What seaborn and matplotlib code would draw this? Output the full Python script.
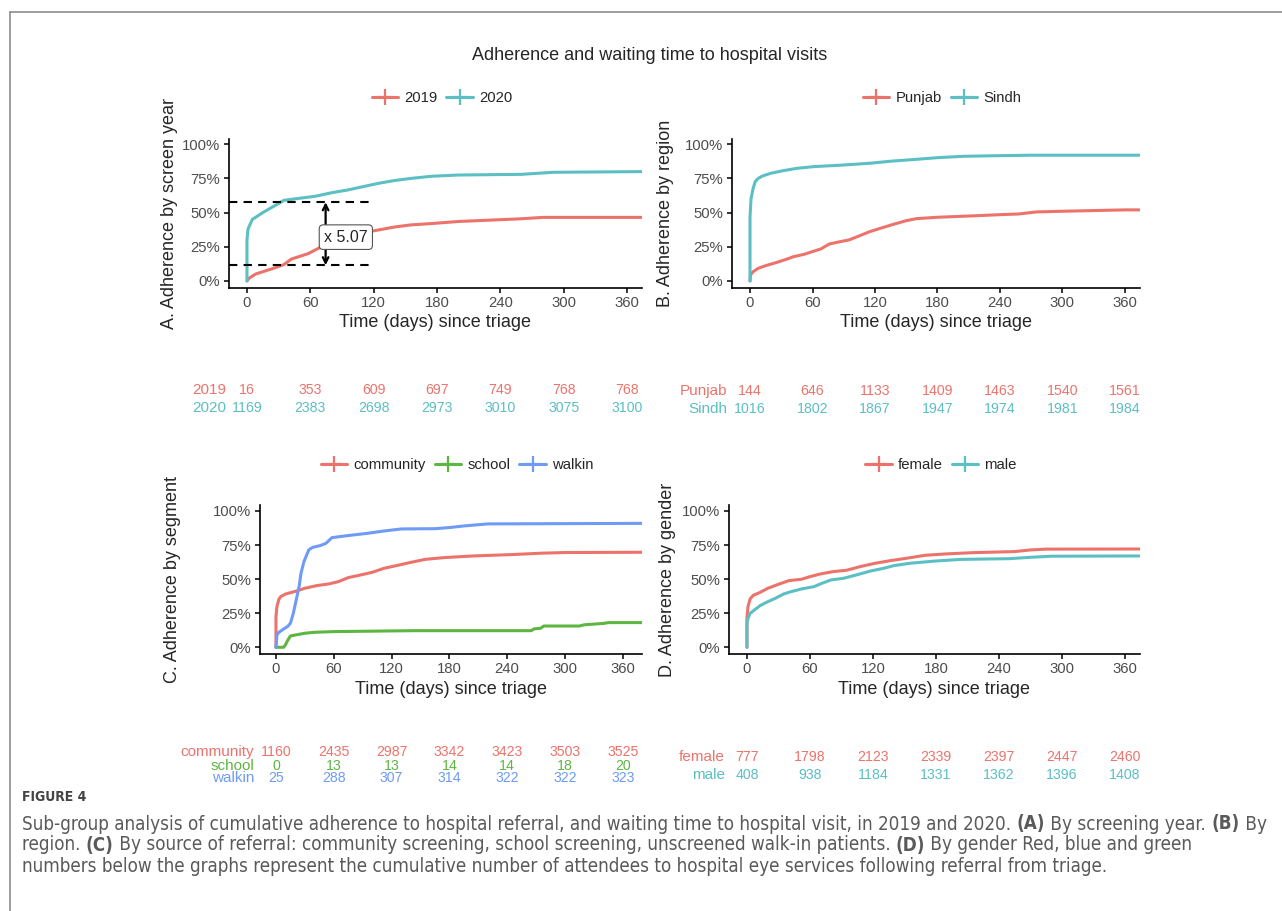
import pandas as pd
import seaborn as sns
import matplotlib.pyplot as plt
from matplotlib import font_manager
from matplotlib.lines import Line2D
from matplotlib.ticker import PercentFormatter
from matplotlib.transforms import blended_transform_factory

# Curvas (tempo em dias, adesão acumulada)
t_2019 = [0, 2, 8, 20, 28, 35, 42, 50, 58, 68, 75, 85, 100, 115, 126, 140, 155, 175, 200, 230, 260, 280, 374]
v_2019 = [0, 0.02, 0.05, 0.08, 0.10, 0.12, 0.16, 0.18, 0.20, 0.24, 0.27, 0.31, 0.34, 0.36, 0.375, 0.395,
          0.41, 0.42, 0.435, 0.445, 0.455, 0.465, 0.465]
t_2020 = [0, 0, 1, 5, 15, 25, 35, 50, 65, 80, 95, 110, 125, 140, 155, 175, 200, 260, 290, 374]
v_2020 = [0, 0.30, 0.38, 0.45, 0.50, 0.545, 0.59, 0.605, 0.62, 0.645, 0.665, 0.69, 0.715, 0.735, 0.75,
          0.766, 0.775, 0.78, 0.795, 0.80]

t_punjab = [0, 0.5, 3, 8, 15, 25, 35, 42, 52, 60, 68, 76, 85, 95, 105, 115, 125, 138, 150, 160, 180, 210,
            240, 258, 275, 300, 360, 374]
v_punjab = [0, 0.045, 0.068, 0.093, 0.112, 0.134, 0.159, 0.178, 0.195, 0.215, 0.234, 0.27, 0.285, 0.30,
            0.33, 0.361, 0.385, 0.415, 0.441, 0.456, 0.466, 0.475, 0.485, 0.49, 0.505, 0.51, 0.52, 0.52]
t_sindh = [0, 0, 1, 3, 5, 8, 12, 20, 32, 45, 62, 85, 115, 135, 160, 180, 205, 235, 270, 374]
v_sindh = [0, 0.47, 0.605, 0.678, 0.727, 0.751, 0.768, 0.788, 0.807, 0.824, 0.837, 0.846, 0.861, 0.876,
           0.89, 0.902, 0.912, 0.916, 0.92, 0.92]

t_community = [0, 0, 1, 3, 5, 10, 20, 30, 42, 55, 65, 75, 85, 100, 112, 125, 140, 155, 175, 205, 245, 275,
               300, 380]
v_community = [0, 0.225, 0.298, 0.352, 0.372, 0.391, 0.41, 0.433, 0.452, 0.465, 0.482, 0.511, 0.526, 0.55,
               0.579, 0.599, 0.623, 0.645, 0.658, 0.67, 0.68, 0.69, 0.695, 0.697]
t_school = [0, 8, 10, 12, 15, 20, 30, 40, 60, 145, 265, 268, 275, 278, 315, 320, 340, 345, 380]
v_school = [0, 0, 0.02, 0.049, 0.083, 0.09, 0.103, 0.11, 0.115, 0.122, 0.122, 0.135, 0.14, 0.156, 0.156,
            0.165, 0.175, 0.181, 0.181]
t_walkin = [0, 1, 3, 8, 12, 15, 18, 21, 24, 26, 29, 34, 38, 46, 52, 58, 72, 95, 110, 130, 165, 180, 195,
            220, 380]
v_walkin = [0, 0.09, 0.11, 0.134, 0.152, 0.176, 0.249, 0.347, 0.445, 0.543, 0.628, 0.714, 0.733, 0.746,
            0.763, 0.804, 0.817, 0.836, 0.851, 0.868, 0.87, 0.878, 0.89, 0.905, 0.909]

t_female = [0, 0, 1, 3, 6, 12, 20, 30, 40, 52, 60, 70, 82, 95, 108, 122, 137, 152, 170, 190, 215, 255,
            270, 285, 374]
v_female = [0, 0.22, 0.298, 0.355, 0.381, 0.401, 0.433, 0.462, 0.489, 0.499, 0.518, 0.538, 0.555, 0.565,
            0.592, 0.616, 0.636, 0.653, 0.675, 0.685, 0.694, 0.702, 0.714, 0.72, 0.721]
t_male = [0, 0, 0.5, 3, 8, 13, 20, 27, 35, 42, 52, 64, 70, 80, 92, 102, 118, 130, 140, 155, 180, 205, 250,
          270, 290, 374]
v_male = [0, 0.18, 0.2, 0.249, 0.279, 0.308, 0.335, 0.359, 0.391, 0.408, 0.428, 0.445, 0.465, 0.494,
          0.506, 0.526, 0.56, 0.579, 0.599, 0.616, 0.633, 0.645, 0.65, 0.66, 0.668, 0.67]

# Tabelas de números acumulados
risk_times = [0, 60, 120, 180, 240, 300, 360]
n_2019 = [16, 353, 609, 697, 749, 768, 768]
n_2020 = [1169, 2383, 2698, 2973, 3010, 3075, 3100]
n_punjab = [144, 646, 1133, 1409, 1463, 1540, 1561]
n_sindh = [1016, 1802, 1867, 1947, 1974, 1981, 1984]
n_community = [1160, 2435, 2987, 3342, 3423, 3503, 3525]
n_school = [0, 13, 13, 14, 14, 18, 20]
n_walkin = [25, 288, 307, 314, 322, 322, 323]
n_female = [777, 1798, 2123, 2339, 2397, 2447, 2460]
n_male = [408, 938, 1184, 1331, 1362, 1396, 1408]

# Anotação do painel A
ratio_low, ratio_high = 0.115, 0.576
ratio_day, ratio_end = 74.5, 120
ratio_label = "x 5.07"

# Texto da legenda da figura (partes em negrito marcadas com True)
caption_lines = [
    [("Sub-group analysis of cumulative adherence to hospital referral, and waiting time to hospital visit, "
      "in 2019 and 2020. ", False), ("(A)", True), (" By screening year. ", False), ("(B)", True),
     (" By", False)],
    [("region. ", False), ("(C)", True), (" By source of referral: community screening, school screening, "
                                          "unscreened walk-in patients. ", False), ("(D)", True),
     (" By gender Red, blue and green", False)],
    [("numbers below the graphs represent the cumulative number of attendees to hospital eye services "
      "following referral from triage.", False)],
]

RED, TEAL, GREEN, BLUE = "#EC736B", "#5BBFC3", "#5DB642", "#6D9BF5"

W, H = 1282, 911
sns.set_style("ticks")
plt.rcParams["font.family"] = ["Liberation Sans", "DejaVu Sans"]

fig = plt.figure(figsize=(W / 100, H / 100), dpi=100)


def px_axes(left, right, top, bottom):
    return fig.add_axes([left / W, 1 - bottom / H, (right - left) / W, (bottom - top) / H])


def make_df(curves):
    rows = []
    for name, tt, vv in curves:
        for t, v in zip(tt, vv):
            rows.append((name, t, v))
    return pd.DataFrame(rows, columns=["grupo", "tempo", "adesao"])


panels = [
    dict(pos=(228.5, 642.3, 138.8, 287.8), xlim=(-17.5, 374.5), ylab="A. Adherence by screen year", labx=-0.122,
         curves=[("2019", t_2019, v_2019), ("2020", t_2020, v_2020)], colors=[RED, TEAL],
         legend=(442, 98), risk=[("2019", n_2019), ("2020", n_2020)], risk_y=[390, 408], lab_x=226),
    dict(pos=(731.8, 1140, 138.8, 287.8), xlim=(-17.5, 374.5), ylab="B. Adherence by region", labx=-0.142,
         curves=[("Punjab", t_punjab, v_punjab), ("Sindh", t_sindh, v_sindh)], colors=[RED, TEAL],
         legend=(942, 98), risk=[("Punjab", n_punjab), ("Sindh", n_sindh)], risk_y=[391, 409], lab_x=727),
    dict(pos=(259.6, 642, 505.5, 654.1), xlim=(-17, 380), ylab="C. Adherence by segment", labx=-0.206,
         curves=[("community", t_community, v_community), ("school", t_school, v_school),
                 ("walkin", t_walkin, v_walkin)], colors=[RED, GREEN, BLUE],
         legend=(457, 465), risk=[("community", n_community), ("school", n_school), ("walkin", n_walkin)],
         risk_y=[752, 765.5, 778.5], lab_x=254),
    dict(pos=(728.6, 1140, 505.5, 654.1), xlim=(-17.5, 374.5), ylab="D. Adherence by gender", labx=-0.128,
         curves=[("female", t_female, v_female), ("male", t_male, v_male)], colors=[RED, TEAL],
         legend=(941, 465), risk=[("female", n_female), ("male", n_male)], risk_y=[757, 775], lab_x=725),
]

axes = []
for p in panels:
    ax = px_axes(*p["pos"])
    axes.append(ax)
    df = make_df(p["curves"])
    names = [c[0] for c in p["curves"]]
    sns.lineplot(data=df, x="tempo", y="adesao", hue="grupo", hue_order=names,
                 palette=dict(zip(names, p["colors"])), estimator=None, sort=False,
                 lw=2.2, legend=False, ax=ax)
    ax.set_xlim(*p["xlim"])
    ax.set_ylim(-0.05, 1.04)
    ax.set_xticks(risk_times)
    ax.set_yticks([0, 0.25, 0.5, 0.75, 1.0])
    ax.yaxis.set_major_formatter(PercentFormatter(1.0, decimals=0))
    ax.tick_params(labelsize=10.7, labelcolor="#4D4D4D", length=3.5, width=1.1, color="black", pad=2.5)
    for s in ["left", "bottom"]:
        ax.spines[s].set_linewidth(1.2)
        ax.spines[s].set_color("black")
    sns.despine(ax=ax)
    ax.set_xlabel("Time (days) since triage", fontsize=13, labelpad=3)
    ax.set_ylabel(p["ylab"], fontsize=13)
    ax.yaxis.set_label_coords(p["labx"], 0.5)

    handles = [Line2D([], [], color=c, lw=2.2, marker="+", ms=11, mew=1.6) for c in p["colors"]]
    fig.legend(handles, names, loc="center", bbox_to_anchor=(p["legend"][0] / W, 1 - p["legend"][1] / H),
               ncol=len(names), frameon=False, fontsize=10.7, handlelength=1.8, handletextpad=0.4,
               columnspacing=0.6)

    # tabela de números abaixo do gráfico
    trans = blended_transform_factory(ax.transData, fig.transFigure)
    for (name, counts), yy, col in zip(p["risk"], p["risk_y"], p["colors"]):
        fig.text(p["lab_x"] / W, 1 - yy / H, name, ha="right", va="center", fontsize=11, color=col)
        for t, n in zip(risk_times, counts):
            ax.text(t, 1 - yy / H, str(n), transform=trans, ha="center", va="center", fontsize=10.2,
                    color=col, clip_on=False)

# anotação do painel A
axA = axes[0]
axA.hlines([ratio_low, ratio_high], panels[0]["xlim"][0], ratio_end, colors="black", linestyles=(0, (4, 3)),
           lw=1.5)
axA.annotate("", xy=(ratio_day, ratio_high), xytext=(ratio_day, ratio_low),
             arrowprops=dict(arrowstyle="<->", color="black", lw=1.6, shrinkA=0, shrinkB=0))
axA.text(ratio_day - 1.5, (ratio_low + ratio_high) / 2 - 0.025, ratio_label, ha="left", va="center",
         fontsize=11.5, bbox=dict(boxstyle="round,pad=0.3,rounding_size=0.25", fc="white", ec="#555555", lw=0.8))

fig.text(650 / W, 1 - 56 / H, "Adherence and waiting time to hospital visits", ha="center", va="center",
         fontsize=13)

# moldura
fig.add_artist(Line2D([10 / W, 10 / W], [0, 1 - 12 / H], transform=fig.transFigure, color="#8c8c8c", lw=1.2))
fig.add_artist(Line2D([10 / W, 1], [1 - 12 / H, 1 - 12 / H], transform=fig.transFigure, color="#8c8c8c", lw=1.2))

# legenda da figura: fonte condensada se existir, tamanho ajustado à largura da 1a linha
cond = [f.name for f in font_manager.fontManager.ttflist if "condensed" in str(f.stretch)]
cap_font = cond[0] if cond else "Liberation Sans"
cap_stretch = "condensed" if cond else "normal"
renderer = fig.canvas.get_renderer()

probe = fig.text(0, 0, "".join(s for s, _ in caption_lines[0]), fontsize=10, family=cap_font,
                 stretch=cap_stretch)
cap_size = 10 * 1240 / probe.get_window_extent(renderer=renderer).width
probe.remove()


def rich_line(x, y, parts, size):
    for s, bold in parts:
        t = fig.text(x / W, 1 - y / H, s, ha="left", va="center", fontsize=size, family=cap_font,
                     stretch=cap_stretch, weight="bold" if bold else "normal", color="#5a5a5a")
        x = t.get_window_extent(renderer=renderer).x1


fig.text(22 / W, 1 - 797 / H, "FIGURE 4", ha="left", va="center", fontsize=10, family=cap_font,
         stretch=cap_stretch, weight="bold", color="#444444")
for parts, yy in zip(caption_lines, [824, 845, 867]):
    rich_line(22, yy, parts, cap_size)

fig.savefig("out.png", dpi=100)
